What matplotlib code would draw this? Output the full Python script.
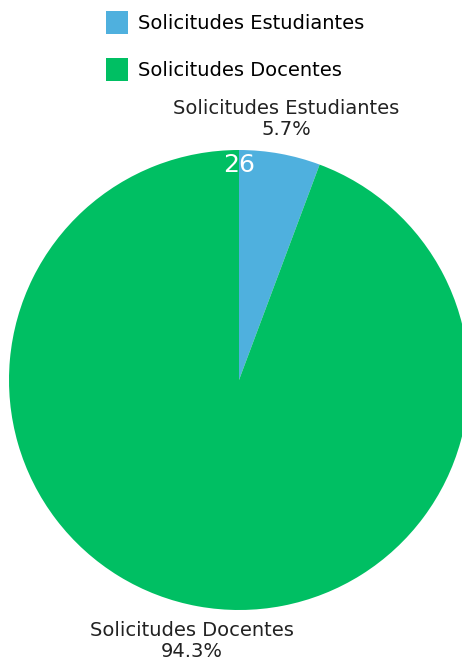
import numpy as np
import matplotlib.pyplot as plt
from matplotlib.patches import Patch

categorias = ['Solicitudes Estudiantes', 'Solicitudes Docentes']
porcentajes = [5.7, 94.3]
colores = ['#4FB0DE', '#00BF63']
valor_estudiantes = 26

W, H = 462, 661
fig = plt.figure(figsize=(W / 100, H / 100), dpi=100)
ax = fig.add_axes([0, 0, 1, 1])

cx, cy, r = 239, H - 380, 230
etiquetas = [f'{c}\n{p}%' for c, p in zip(categorias, porcentajes)]
wedges, textos = ax.pie(porcentajes, colors=colores, startangle=90, counterclock=False,
                        center=(cx, cy), radius=r, labels=etiquetas, labeldistance=1.153,
                        textprops=dict(fontsize=14, color='#222222', linespacing=1.15),
                        wedgeprops=dict(linewidth=0), frame=True)
ax.set_xlim(0, W)
ax.set_ylim(0, H)
ax.set_aspect('equal')
ax.axis('off')
for t in textos:
    t.set_ha('center')
    t.set_va('center')

# valor en la cima del gráfico
ang = np.deg2rad(90)
ax.text(cx + 0.935 * r * np.cos(ang), cy + 0.935 * r * np.sin(ang), str(valor_estudiantes),
        color='white', fontsize=18, ha='center', va='center')

handles = [Patch(facecolor=c, edgecolor='none') for c in colores]
ax.legend(handles, categorias, loc='upper left', bbox_to_anchor=(98 / W, 1 - 3 / H),
          frameon=False, fontsize=14, handlelength=1.15, handleheight=1.45,
          handletextpad=0.5, labelspacing=1.24, borderaxespad=0)

fig.savefig('out.png', dpi=100)
